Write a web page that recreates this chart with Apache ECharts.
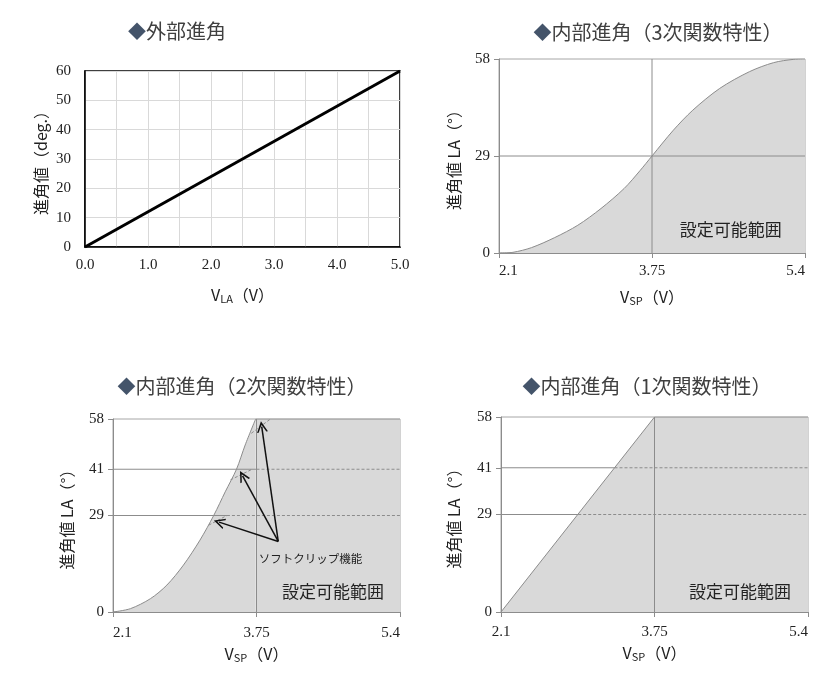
<!DOCTYPE html>
<html><head><meta charset="utf-8">
<script src="https://cdn.jsdelivr.net/npm/echarts@6/dist/echarts.min.js"></script>
<style>html,body{margin:0;padding:0;background:#fff}#c{width:840px;height:687px}</style>
</head><body><div id="c"></div>
<script>
// ---------- data ----------
const titles = ['外部進角', '内部進角（3次関数特性）', '内部進角（2次関数特性）', '内部進角（1次関数特性）'];

// chart 1 : external lead angle
const extV = [0.0, 5.0];
const extDeg = [0, 60];

// chart 2 : cubic characteristic
const cubV  = [2.1, 2.25, 2.45, 2.7, 2.95, 3.2, 3.45, 3.62, 3.75, 3.98, 4.19, 4.48, 4.8, 5.06, 5.28, 5.4];
const cubLA = [0,   0.2,  1.6,  4.6, 8.3, 13.3, 19.3, 24.6, 29,  36.7, 42.7, 49.2, 54.2, 56.9, 57.9, 58];

// chart 3 : quadratic characteristic
const quadV  = [2.1, 2.3, 2.53, 2.72, 2.91, 3.1, 3.26, 3.39, 3.52, 3.62, 3.74];
const quadLA = [0,   1.0, 4.0,  8.1,  14.1, 21.6, 29.1, 36.1, 42.9, 50.2, 58];
const quadFlatV = [3.74, 5.4];
const quadFlatLA = [58, 58];
// soft clip branches (start V, start LA, end V, end LA)
const clipStartV = [3.20, 3.45, 3.69];
const clipStartLA = [26.1, 39.7, 53.7];
const clipEndV = [3.41, 3.70, 3.91];
const clipEndLA = [29.0, 42.9, 58];
// arrows: common tail, heads
const arrowTail = [4.0, 21.2];
const arrowHeadV = [3.32, 3.59, 3.81];
const arrowHeadLA = [27.0, 40.9, 55.7];

// chart 4 : linear characteristic
const linV  = [2.1, 3.75, 5.4];
const linLA = [0, 58, 58];

// reference levels (positions as drawn) and their tick texts
const xTickVals = [2.1, 3.75, 5.4];
const xTickText = ['2.1', '3.75', '5.4'];
const yTickVals2 = [0, 29, 58];
const yTickText2 = ['0', '29', '58'];
const yTickVals34 = [0, 29, 42.9, 58];
const yTickText34 = ['0', '29', '41', '58'];
const refV = 3.75;
const cubRefLA = [29];
const quadRefLA = [29, 42.9];
const quadSolidEnd = [3.41, 3.75];
const linRefLA = [29, 42.9];
const linSolidEnd = [2.93, 3.32];

const areaText = '設定可能範囲';
const areaTextPos = [[4.6, 7.0], [4.63, 6.1], [4.67, 6.2]];
const clipText = 'ソフトクリップ機能';
const clipTextPos = [4.37, 15.9];

// ---------- style ----------
const GRAY = '#8C8C8C', FILL = '#D9D9D9', BORDER = '#A6A6A6', TXT = '#222';
const serif = '"Liberation Serif","Times New Roman",serif';
const sans = '"Noto Sans CJK JP","Noto Sans",sans-serif';
const pairs = (xs, ys) => xs.map((x, i) => [x, ys[i]]);

const xNameStyle = {
  fontFamily: sans, fontSize: 16, color: TXT,
  rich: { s: { fontFamily: sans, fontSize: 11, fill: TXT, color: TXT, verticalAlign: 'bottom', padding: [7, 0, 0, 0] } }
};
const yNameStyle = { fontFamily: sans, fontSize: 16, color: TXT };

function xAxisIn(gi, gap, margin, alignMin) {
  return {
    gridIndex: gi, type: 'value', min: 2.1, max: 5.4,
    axisLine: { onZero: false, lineStyle: { color: GRAY, width: 1 } },
    axisTick: { show: true, customValues: xTickVals, length: 5, lineStyle: { color: GRAY } },
    axisLabel: {
      customValues: xTickVals, fontFamily: serif, fontSize: 15, color: TXT, margin: margin,
      alignMinLabel: alignMin, alignMaxLabel: 'right',
      formatter: v => { const i = xTickVals.findIndex(t => Math.abs(t - v) < 1e-6); return i >= 0 ? xTickText[i] : ''; }
    },
    splitLine: { show: false },
    name: 'V{s|SP}（V）', nameLocation: 'middle', nameGap: gap, nameTextStyle: xNameStyle
  };
}
function yAxisIn(gi, vals, texts, gap) {
  return {
    gridIndex: gi, type: 'value', min: 0, max: 58,
    axisLine: { show: true, lineStyle: { color: GRAY, width: 1 } },
    axisTick: { show: true, customValues: vals, length: 5, lineStyle: { color: GRAY } },
    axisLabel: {
      customValues: vals, fontFamily: serif, fontSize: 15, color: TXT, margin: 9,
      formatter: v => { const i = vals.findIndex(t => Math.abs(t - v) < 1e-6); return i >= 0 ? texts[i] : ''; }
    },
    splitLine: { show: false },
    name: '進角値 LA（°）', nameLocation: 'middle', nameGap: gap, nameRotate: 90, nameTextStyle: yNameStyle
  };
}
function seg(gi, pts, dashed, color, width, z) {
  return {
    type: 'line', xAxisIndex: gi, yAxisIndex: gi, data: pts, symbol: 'none', silent: true,
    lineStyle: { color: color || GRAY, width: width || 1, type: dashed ? [3, 2] : 'solid' }, z: z || 3, animation: false
  };
}
function areaSeries(gi, pts, smooth) {
  return {
    type: 'line', xAxisIndex: gi, yAxisIndex: gi, data: pts, symbol: 'none', silent: true, smooth: smooth,
    lineStyle: { color: GRAY, width: 1 }, areaStyle: { color: FILL, opacity: 1 }, z: 2, animation: false
  };
}
function textPoint(gi, pos, text, size) {
  return {
    type: 'scatter', xAxisIndex: gi, yAxisIndex: gi, data: [], silent: true, animation: false,
    markPoint: {
      symbol: 'rect', symbolSize: 1, itemStyle: { color: 'rgba(0,0,0,0)' }, silent: true, animation: false,
      label: { show: true, position: 'inside', formatter: text, fontFamily: sans, fontSize: size, color: TXT },
      data: [{ coord: pos }]
    }, z: 6
  };
}

const series = [];
// chart 1
series.push(seg(0, pairs(extV, extDeg), false, '#000', 3, 4));
// chart 2
series.push(areaSeries(1, pairs(cubV, cubLA), 0.3));
series.push(seg(1, [[refV, 0], [refV, 58]]));
cubRefLA.forEach(l => series.push(seg(1, [[2.1, l], [5.4, l]])));
series.push(textPoint(1, areaTextPos[0], areaText, 17));
// chart 3
series.push(areaSeries(2, pairs(quadV, quadLA), 0.3));
series.push(areaSeries(2, pairs(quadFlatV, quadFlatLA), false));
series.push(seg(2, [[refV, 0], [refV, 58]]));
quadRefLA.forEach((l, i) => {
  series.push(seg(2, [[2.1, l], [quadSolidEnd[i], l]]));
  series.push(seg(2, [[quadSolidEnd[i], l], [5.4, l]], true));
});
clipStartV.forEach((v, i) => series.push(seg(2, [[v, clipStartLA[i]], [clipEndV[i], clipEndLA[i]]], true)));
const chevron = 'path://M5,0 L10,10 L8.5,10 L5,3.2 L1.5,10 L0,10 Z';
series.push({
  type: 'scatter', xAxisIndex: 2, yAxisIndex: 2, data: [], silent: true, animation: false, z: 7,
  markLine: {
    silent: true, animation: false, symbol: ['none', chevron], symbolSize: [11, 11],
    lineStyle: { color: '#111', width: 1.5, type: 'solid' }, label: { show: false },
    data: arrowHeadV.map((v, i) => [{ coord: arrowTail }, { coord: [v, arrowHeadLA[i]] }])
  }
});
series.push(textPoint(2, clipTextPos, clipText, 11.5));
series.push(textPoint(2, areaTextPos[1], areaText, 17));
// chart 4
series.push(areaSeries(3, pairs(linV, linLA), false));
series.push(seg(3, [[refV, 0], [refV, 58]]));
linRefLA.forEach((l, i) => {
  series.push(seg(3, [[2.1, l], [linSolidEnd[i], l]]));
  series.push(seg(3, [[linSolidEnd[i], l], [5.4, l]], true));
});
series.push(textPoint(3, areaTextPos[2], areaText, 17));

const titleX = [177, 658, 242, 647];
const titleY = [31, 32, 386, 386];

const option = {
  animation: false,
  textStyle: { fontFamily: sans },
  grid: [
    { left: 85, top: 71, width: 315, height: 176, show: true, borderColor: '#000', borderWidth: 1.5 },
    { left: 499, top: 59, width: 306, height: 194, show: true, borderColor: BORDER, borderWidth: 1 },
    { left: 113, top: 419, width: 287, height: 193, show: true, borderColor: BORDER, borderWidth: 1 },
    { left: 501, top: 417, width: 307, height: 195, show: true, borderColor: BORDER, borderWidth: 1 }
  ],
  xAxis: [
    {
      gridIndex: 0, type: 'value', min: 0, max: 5, interval: 0.5,
      axisLine: { lineStyle: { color: '#000', width: 1.5 } }, axisTick: { show: false },
      axisLabel: { fontFamily: serif, fontSize: 15, color: TXT, margin: 11,
        formatter: v => (Math.abs(v - Math.round(v)) < 1e-6 ? v.toFixed(1) : '') },
      splitLine: { show: true, lineStyle: { color: '#D9D9D9', width: 1 } },
      name: 'V{s|LA}（V）', nameLocation: 'middle', nameGap: 39, nameTextStyle: xNameStyle
    },
    xAxisIn(1, 35, 11, 'left'),
    xAxisIn(2, 33, 14, 'left'),
    xAxisIn(3, 32, 13, 'center')
  ],
  yAxis: [
    {
      gridIndex: 0, type: 'value', min: 0, max: 60, interval: 10,
      axisLine: { show: true, lineStyle: { color: '#000', width: 1.5 } }, axisTick: { show: false },
      axisLabel: { fontFamily: serif, fontSize: 15, color: TXT, margin: 14 },
      splitLine: { show: true, lineStyle: { color: '#D9D9D9', width: 1 } },
      name: '進角値（deg.）', nameLocation: 'middle', nameGap: 36, nameRotate: 90, nameTextStyle: yNameStyle
    },
    yAxisIn(1, yTickVals2, yTickText2, 37),
    yAxisIn(2, yTickVals34, yTickText34, 38),
    yAxisIn(3, yTickVals34, yTickText34, 39)
  ],
  graphic: titles.map((t, i) => ({
    type: 'text', x: titleX[i], y: titleY[i], silent: true,
    style: {
      text: '{d|◆}{t|' + t + '}', align: 'center', verticalAlign: 'middle',
      rich: {
        d: { fill: '#44546A', fontSize: 18, fontFamily: sans },
        t: { fill: '#404040', fontSize: 20, fontFamily: sans }
      }
    }
  })),
  series: series
};
const chart = echarts.init(document.getElementById('c'));
chart.setOption(option);
</script>
</body></html>
